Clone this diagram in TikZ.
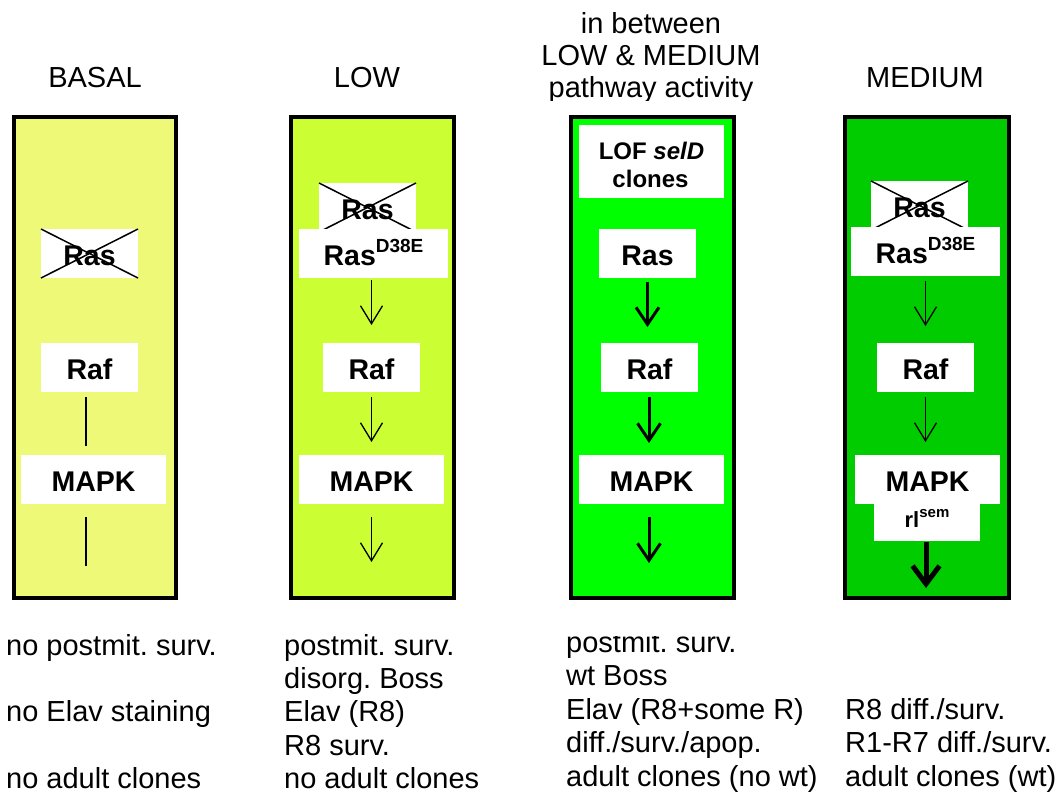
\documentclass[tikz,border=0pt]{standalone}
\usepackage{fontspec}
\setmainfont{Liberation Sans}
\usetikzlibrary{arrows.meta}

\definecolor{basalfill}{RGB}{238,250,119}
\definecolor{lowfill}{RGB}{204,255,51}
\definecolor{midfill}{RGB}{0,255,0}
\definecolor{mediumfill}{RGB}{0,204,0}

\newcommand\genefont{\fontsize{28.5}{30}\selectfont\bfseries}
\newcommand\headfont{\fontsize{29}{32}\selectfont}
\newcommand\notefont{\fontsize{29}{33}\selectfont}
\newcommand\supD[1]{\raisebox{13pt}{\fontsize{19}{19}\selectfont\bfseries #1}}

\begin{document}
\frenchspacing
\begin{tikzpicture}[x=1pt,y=-1pt,
  panel/.style={draw=black, line width=4pt, inner sep=0pt, outer sep=0pt,
    minimum height=481pt},
  gene/.style={fill=white, inner sep=0pt, outer sep=0pt, text height=24pt,
    text depth=0pt, font=\genefont, minimum height=49pt},
  crossline/.style={line width=1.5pt},
  heading/.style={anchor=base, inner sep=0pt, font=\headfont},
  note/.style={anchor=base west, inner sep=0pt, font=\notefont},
  plainlink/.style={line width=1.3pt},
  thinarrow/.style={line width=1.3pt, -{Straight Barb[length=18pt,width=22pt]}},
  boldarrow/.style={line width=3pt, -{Straight Barb[length=17pt,width=23pt]}},
  heavyarrow/.style={line width=5pt, -{Straight Barb[length=18pt,width=27pt]}},
]
\useasboundingbox (0,0) rectangle (1061,796);

% ---------- headings ----------
\node[heading] (hbasal) at (95,87) {BASAL};
\node[heading] (hlow) at (367,87) {LOW};
\node[heading] (hmed) at (925,87) {MEDIUM};
\node[heading] (hmid1) at (651,33) {in between};
\node[heading] (hmid2) at (651,65) {LOW \& MEDIUM};
\begin{scope}
  \clip (500,70) rectangle (800,100);
  \node[heading] (hmid3) at (651,97) {pathway activity};
\end{scope}

% ---------- panels ----------
\node[panel, fill=basalfill, minimum width=162pt] (p1) at (95,357.5) {};
\node[panel, fill=lowfill, minimum width=163pt] (p2) at (372.5,357.5) {};
\node[panel, fill=midfill, minimum width=163pt] (p3) at (652.5,357.5) {};
\node[panel, fill=mediumfill, minimum width=164pt] (p4) at (927,357.5) {};

% ---------- BASAL ----------
\node[gene, minimum width=97pt] (xras1) at (89.5,253.5) {Ras};
\draw[crossline] (xras1.north west) -- (xras1.south east)
                 (xras1.north east) -- (xras1.south west);
\node[gene, minimum width=97pt] (raf1) at (89.5,367.5) {Raf};
\node[gene, minimum width=145pt] (mapk1) at (93.5,479.5) {MAPK};
\coordinate (l1) at (86,0);
\coordinate (end1) at (86,566);
\draw[plainlink, shorten <=5pt, shorten >=9pt] (raf1.south -| l1) -- (mapk1.north -| l1);
\draw[plainlink, shorten <=13pt] (mapk1.south -| l1) -- (end1);

% ---------- LOW ----------
\node[gene, minimum width=97pt] (xras2) at (367.5,207.5) {Ras};
\draw[crossline] (xras2.north west) -- (xras2.south east)
                 (xras2.north east) -- (xras2.south west);
\node[gene, minimum width=149pt] (rasd2) at (373.5,253.5) {Ras\supD{D38E}};
\node[gene, minimum width=97pt] (raf2) at (371.5,367.5) {Raf};
\node[gene, minimum width=145pt] (mapk2) at (371.5,479.5) {MAPK};
\coordinate (end2) at (371.5,562);
\draw[thinarrow, shorten <=2pt, shorten >=18pt] (rasd2.south -| raf2.north) -- (raf2.north);
\draw[thinarrow, shorten <=5pt, shorten >=13pt] (raf2.south) -- (mapk2.north);
\draw[thinarrow, shorten <=13pt] (mapk2.south) -- (end2);

% ---------- between LOW and MEDIUM ----------
\node[gene, minimum width=145pt, minimum height=73pt] (lof) at (651.5,161.5) {};
\node[anchor=base, inner sep=0pt, font=\fontsize{24}{28}\selectfont\bfseries]
  (lof1) at (651.5,159) {LOF \textit{selD}};
\node[anchor=base, inner sep=0pt, font=\fontsize{24}{28}\selectfont\bfseries]
  (lof2) at (650.5,187) {clones};
\node[gene, minimum width=97pt] (ras3) at (647.5,253.5) {Ras};
\node[gene, minimum width=97pt] (raf3) at (649.5,367.5) {Raf};
\node[gene, minimum width=145pt] (mapk3) at (651.5,479.5) {MAPK};
\coordinate (end3) at (649,563);
\draw[boldarrow, shorten <=4pt, shorten >=16pt] (ras3.south) -- (raf3.north -| ras3.south);
\draw[boldarrow, shorten <=5pt, shorten >=12pt] (raf3.south -| end3) -- (mapk3.north -| end3);
\draw[boldarrow, shorten <=13pt] (mapk3.south -| end3) -- (end3);

% ---------- MEDIUM ----------
\node[gene, minimum width=97pt] (xras4) at (919.5,205.5) {Ras};
\draw[crossline] (xras4.north west) -- (xras4.south east)
                 (xras4.north east) -- (xras4.south west);
\node[gene, minimum width=149pt] (rasd4) at (925.5,251.5) {Ras\supD{D38E}};
\node[gene, minimum width=97pt] (raf4) at (925.5,367.5) {Raf};
\node[gene, minimum width=106pt, minimum height=37pt, text height=9pt,
      font=\fontsize{22}{24}\selectfont\bfseries] (rlsem) at (927,522.5)
  {rl\raisebox{10pt}{\fontsize{15}{15}\selectfont\bfseries sem}\hspace{22pt}};
\node[gene, minimum width=145pt] (mapk4) at (927.5,479.5) {MAPK};
\coordinate (end4) at (926,588);
\draw[thinarrow, shorten <=5pt, shorten >=17pt] (rasd4.south -| raf4.north) -- (raf4.north);
\draw[thinarrow, shorten <=5pt, shorten >=13pt] (raf4.south) -- (mapk4.north -| raf4.south);
\draw[heavyarrow, shorten <=1pt] (rlsem.south -| end4) -- (end4);

% ---------- outcomes ----------
\node[note] (n11) at (6,655) {no postmit. surv.};
\node[note] (n12) at (6,721) {no Elav staining};
\node[note] (n13) at (6,788) {no adult clones};

\node[note] (n21) at (284,655) {postmit. surv.};
\node[note] (n22) at (284,688) {disorg. Boss};
\node[note] (n23) at (284,721) {Elav (R8)};
\node[note] (n24) at (284,755) {R8 surv.};
\node[note] (n25) at (284,788) {no adult clones};

\begin{scope}
  \clip (540,636) rectangle (840,796);
  \node[note] (n31) at (566,652) {postmit. surv.};
\end{scope}
\node[note] (n32) at (566,685) {wt Boss};
\node[note] (n33) at (566,719) {Elav (R8+some R)};
\node[note] (n34) at (566,752) {diff./surv./apop.};
\node[note] (n35) at (566,786) {adult clones (no wt)};

\node[note] (n41) at (845,719) {R8 diff./surv.};
\node[note] (n42) at (845,752) {R1-R7 diff./surv.};
\node[note] (n43) at (845,786) {adult clones (wt)};
\end{tikzpicture}
\end{document}
